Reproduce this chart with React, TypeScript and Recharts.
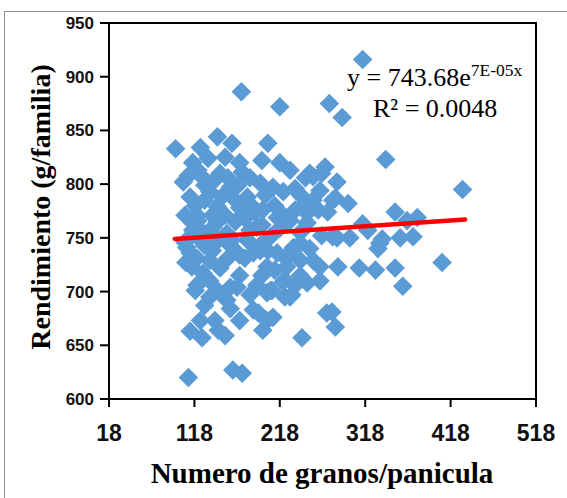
import React from 'react'
import {
  ScatterChart,
  Scatter,
  XAxis,
  YAxis,
  ReferenceArea
} from 'recharts'

// granos por panicula (x) and rendimiento g/familia (y)
const granos = [
  315, 276, 291, 342, 432, 173, 218, 96, 145, 125, 162, 204, 116, 218, 134, 154, 171,
  105, 128, 148, 174, 195, 210, 222, 113, 136, 160, 180, 121, 145, 171, 198, 222,
  116, 140, 166, 191, 109, 107, 116, 136, 156, 180, 207, 122, 145, 113, 115, 128,
  136, 148, 171, 187, 203, 224, 224, 224, 121, 145, 160, 156, 191, 203, 136, 125,
  142, 187, 203, 198, 160, 113, 127, 146, 154, 244, 163, 174, 111, 273, 283, 230,
  168, 210, 193, 267, 257, 285, 257, 280, 298, 250, 353, 379, 367, 315, 321, 300,
  280, 338, 333, 359, 374, 408, 353, 330, 311, 286, 265, 362, 279, 253, 271, 236,
  283, 245, 274, 215, 230, 250, 285, 335, 234, 215, 242, 257, 226, 222, 250, 232,
  207, 125, 160, 195, 242,
  111, 122, 130, 142, 157, 169, 183, 119, 130, 150, 166, 185, 107, 125, 139, 154,
  177, 189, 113, 130, 146, 162, 183, 121, 139, 157, 177, 195, 108,
  197, 230, 248, 201, 242, 265, 212, 236, 263, 197, 218, 242, 267, 204, 230, 253,
  197, 212, 242, 265, 209, 236,
  119, 136, 171, 183, 130, 171
]
const rendimiento = [
  916, 875, 862, 823, 795, 886, 872, 833, 844, 834, 838, 838, 820, 820, 824, 825, 820,
  802, 806, 810, 811, 801, 797, 793, 788, 793, 797, 788, 771, 779, 778, 776, 771,
  764, 760, 765, 760, 741, 746, 757, 751, 754, 748, 751, 766, 765, 736, 723, 717,
  729, 722, 734, 736, 723, 732, 711, 695, 706, 701, 704, 692, 706, 699, 695, 673,
  673, 683, 673, 664, 684, 663, 657, 664, 659, 657, 627, 624, 620, 680, 667, 695,
  704, 676, 680, 810, 807, 802, 785, 785, 782, 773, 774, 769, 766, 763, 757, 750,
  751, 749, 740, 750, 751, 727, 722, 720, 722, 723, 723, 705, 681, 810, 816, 796,
  787, 779, 774, 769, 766, 764, 750, 745, 741, 736, 729, 729, 723, 709, 708, 697,
  701, 748, 743, 743, 745,
  808, 813, 799, 804, 806, 799, 806, 780, 785, 788, 785, 780, 771, 757, 771, 771,
  768, 774, 751, 743, 748, 748, 757, 731, 738, 731, 731, 738, 727,
  822, 813, 806, 790, 790, 794, 780, 776, 776, 762, 759, 755, 752, 738, 734, 740,
  715, 720, 715, 710, 701, 706,
  701, 710, 715, 697, 687, 673
]

// trend line ends (exponential fit, practically straight over this range)
const trendX = [95, 435]
const trendY = [749, 767]

const xTicks = [18, 118, 218, 318, 418, 518]
const yTicks = [600, 650, 700, 750, 800, 850, 900, 950]

const points = granos.map((g, i) => ({ x: g, y: rendimiento[i] }))
const trend = trendX.map((t, i) => ({ x: t, y: trendY[i] }))

const BLUE = '#5B9BD5'
const SANS = '"Liberation Sans", Arial, sans-serif'
const SERIF = '"Liberation Serif", "Times New Roman", serif'

const Diamond = ({ cx, cy }: any) => {
  const r = 9.8
  return (
    <polygon
      points={`${cx},${cy - r} ${cx + r},${cy} ${cx},${cy + r} ${cx - r},${cy}`}
      fill={BLUE}
    />
  )
}

const NoDot = () => <g />

export default function App() {
  return (
    <div style={{ position: 'fixed', left: 0, top: 0, width: 567, height: 498, background: '#fff' }}>
      {/* chart area frame, cropped on the right and bottom */}
      <div
        style={{
          position: 'absolute',
          left: 4,
          top: 11,
          width: 580,
          height: 500,
          borderLeft: '1px solid #8E8E8E',
          borderTop: '1px solid #8E8E8E'
        }}
      />
      <div style={{ position: 'absolute', left: 0, top: 0 }}>
        <ScatterChart width={567} height={498} margin={{ top: 23, right: 31, bottom: 39, left: 9 }}>
          <XAxis
            type="number"
            dataKey="x"
            domain={[18, 518]}
            ticks={xTicks}
            allowDataOverflow
            height={60}
            stroke="#000"
            strokeWidth={2}
            tickSize={8}
            tickMargin={18}
            tick={{ fill: '#111', fontSize: 23, fontWeight: 'bold', fontFamily: SANS }}
          />
          <YAxis
            type="number"
            dataKey="y"
            domain={[600, 950]}
            ticks={yTicks}
            allowDataOverflow
            width={100}
            stroke="#000"
            strokeWidth={2}
            tickSize={9}
            tickMargin={6}
            tick={{ fill: '#111', fontSize: 17, fontWeight: 'bold', fontFamily: SANS }}
          />
          <ReferenceArea x1={18} x2={518} y1={600} y2={950} fill="none" stroke="#000" strokeWidth={2} fillOpacity={0} />
          <Scatter data={points} shape={<Diamond />} isAnimationActive={false} />
          <Scatter
            data={trend}
            shape={<NoDot />}
            line={{ stroke: '#FF0000', strokeWidth: 4.5, strokeLinecap: 'round' }}
            isAnimationActive={false}
          />
        </ScatterChart>
      </div>
      <svg width={567} height={498} style={{ position: 'absolute', left: 0, top: 0, pointerEvents: 'none' }}>
        <text
          transform="translate(40,207) rotate(-90)"
          textAnchor="middle"
          dominantBaseline="central"
          fontFamily={SERIF}
          fontWeight="bold"
          fontSize={28}
          fill="#000"
        >
          Rendimiento (g/familia)
        </text>
        <text x={322} y={483} textAnchor="middle" fontFamily={SERIF} fontWeight="bold" fontSize={29} fill="#000">
          Numero de granos/panicula
        </text>
        <text x={347} y={86} fontFamily={SERIF} fontSize={26} fill="#000">
          y = 743.68e<tspan dy={-10} fontSize={17.5}>7E-05x</tspan>
        </text>
        <text x={373} y={117} fontFamily={SERIF} fontSize={26} fill="#000">
          R² = 0.0048
        </text>
      </svg>
    </div>
  )
}
